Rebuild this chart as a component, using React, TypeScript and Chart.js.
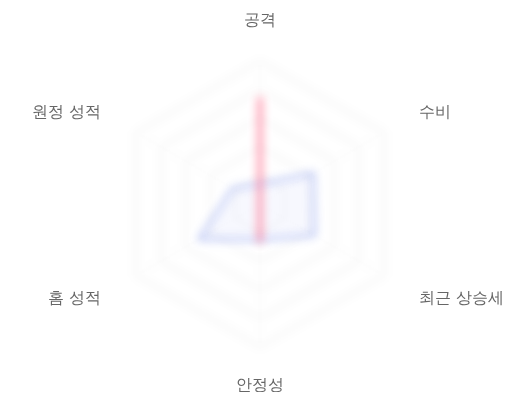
import { useEffect, useRef } from "react";
import { Chart, registerables } from "chart.js";

Chart.register(...registerables);

const labels = ["공격", "수비", "최근 상승세", "안정성", "홈 성적", "원정 성적"];
const redValues = [75, 0, 0, 27, 0, 0];
const blueValues = [14, 43, 44, 25, 49, 22];

// soften grid + datasets; the label scale draws after datasets and stays sharp
const softPlugin = {
  id: "soft",
  beforeDraw(chart: Chart) {
    chart.ctx.save();
    chart.ctx.filter = "blur(5px)";
  },
  afterDatasetsDraw(chart: Chart) {
    chart.ctx.restore();
  },
};

export default function App() {
  const canvasRef = useRef<HTMLCanvasElement>(null);

  useEffect(() => {
    if (!canvasRef.current) return;
    const ctx = canvasRef.current.getContext("2d") as CanvasRenderingContext2D;

    const chart = new Chart(ctx, {
      type: "radar",
      data: {
        labels,
        datasets: [
          {
            label: "A",
            data: redValues,
            borderColor: "rgba(255, 99, 132, 0.9)",
            backgroundColor: "rgba(255, 99, 132, 0.2)",
            borderWidth: 4,
            pointRadius: 0,
          },
          {
            label: "B",
            data: blueValues,
            borderColor: "rgba(100, 125, 230, 0.55)",
            backgroundColor: "rgba(100, 125, 230, 0.05)",
            borderWidth: 3,
            pointRadius: 0,
          },
        ],
      },
      options: {
        animation: false,
        responsive: true,
        maintainAspectRatio: false,
        layout: { padding: { top: 10, bottom: 2 } },
        plugins: { legend: { display: false }, tooltip: { enabled: false } },
        scales: {
          // grid scale: tiny invisible labels only to pull the radius in
          r: {
            min: 0,
            max: 100,
            ticks: { display: false, stepSize: 20 },
            grid: { color: "rgba(0, 0, 0, 0.07)", lineWidth: 2 },
            angleLines: { color: "rgba(0, 0, 0, 0.04)", lineWidth: 2 },
            pointLabels: { font: { size: 1 }, padding: 42, color: "rgba(0,0,0,0)" },
          },
          // label scale: drawn on top, centred on its anchor points
          labelsR: {
            type: "radialLinear",
            axis: "r",
            min: 0,
            max: 100,
            ticks: { display: false },
            grid: { display: false, z: 1 },
            angleLines: { display: false },
            pointLabels: {
              font: { size: 16, lineHeight: 0.125 },
              padding: (c: any) => (c.index === 3 ? -1 : 4),
              color: "#666",
            },
          },
        },
      },
      plugins: [softPlugin],
    });

    return () => {
      chart.destroy();
    };
  }, []);

  return (
    <div style={{ width: 504, height: 384 }}>
      <canvas ref={canvasRef} />
    </div>
  );
}
